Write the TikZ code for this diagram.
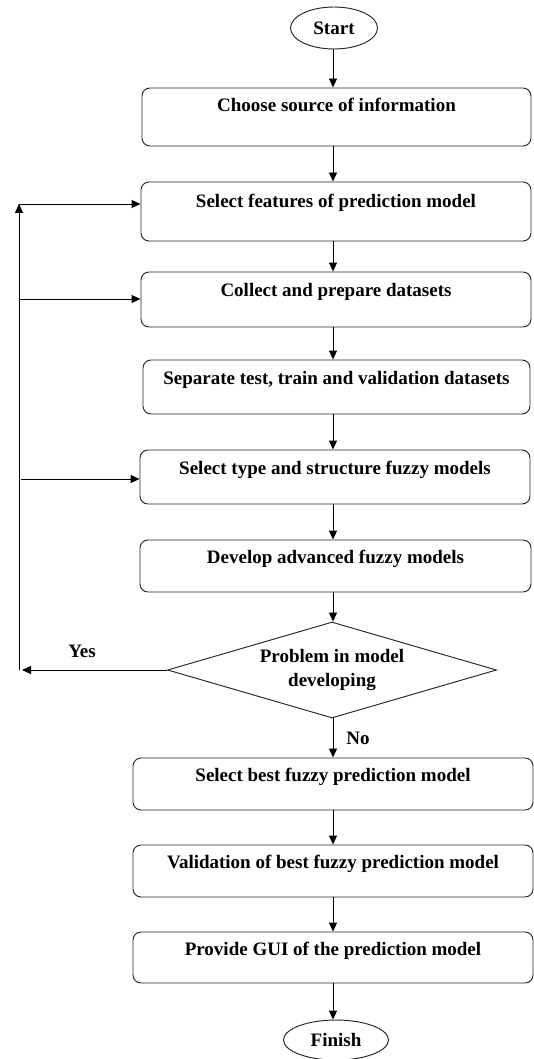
\documentclass[tikz,border=0pt]{standalone}
\usepackage{fontspec}
\setmainfont{Liberation Serif}
\usetikzlibrary{shapes.geometric,arrows.meta}
\begin{document}
\begin{tikzpicture}[x=1pt,y=-1pt,
  line width=0.95pt,
  every node/.style={font=\fontsize{19}{24}\selectfont\bfseries},
  stepbox/.style={draw=black!85,rounded corners=8pt,inner xsep=0pt,inner ysep=0pt,align=center},
  oval/.style={draw=black!85,ellipse,inner sep=0pt},
  decide/.style={draw=black!85,diamond,inner sep=0pt,aspect=3.43,align=center},
  arr/.style={draw=black,-{Triangle[length=9pt,width=8pt]}},
  lbl/.style={inner sep=0pt}
]
\useasboundingbox (0,0) rectangle (534,1059);
\coordinate (ax) at (333,0);
% start / finish
\node[oval,minimum width=87pt,minimum height=42pt] (start) at (334,28) {Start};
\node[oval,minimum width=105pt,minimum height=40pt] (finish) at (336,1040) {Finish};
% boxes
\node[stepbox,minimum width=389pt,text height=24pt,text depth=34pt] (b1) at (336.5,117) {Choose source of information};
\node[stepbox,minimum width=390pt,text height=26pt,text depth=33pt] (b2) at (336,211.5) {Select features of prediction model};
\node[stepbox,minimum width=390pt,text height=24pt,text depth=31pt] (b3) at (336,299.5) {Collect and prepare datasets};
\node[stepbox,minimum width=387pt,text height=24pt,text depth=30pt] (b4) at (336.5,387) {Separate test, train and validation datasets};
\node[stepbox,minimum width=390pt,text height=24pt,text depth=30pt] (b5) at (335,477) {Select type and structure fuzzy models};
\node[stepbox,minimum width=391pt,text height=23pt,text depth=29pt] (b6) at (335.5,566) {Develop advanced fuzzy models};
\node[decide,minimum width=329pt,minimum height=96pt] (d1) at (332,670) {Problem in model\\developing};
\node[stepbox,minimum width=400pt,text height=23pt,text depth=29pt] (b7) at (333,784) {Select best fuzzy prediction model};
\node[stepbox,minimum width=400pt,text height=23pt,text depth=29pt] (b8) at (333,871) {Validation of best fuzzy prediction model};
\node[stepbox,minimum width=400pt,text height=23pt,text depth=28pt] (b9) at (333,957.5) {Provide GUI of the prediction model};
% labels
\node[lbl] (yes) at (82,651) {Yes};
\node[lbl] (no) at (358,738) {No};
% main flow
\draw[arr] (start.south -| ax) -- (b1.north -| ax);
\draw[arr] (b1.south -| ax) -- (b2.north -| ax);
\draw[arr] (b2.south -| ax) -- (b3.north -| ax);
\draw[arr] (b3.south -| ax) -- (b4.north -| ax);
\draw[arr] (b4.south -| ax) -- (b5.north -| ax);
\draw[arr] (b5.south -| ax) -- (b6.north -| ax);
\draw[arr] (b6.south -| ax) -- (d1.north -| ax);
\draw[arr] (d1.south -| ax) -- (b7.north -| ax);
\draw[arr] (b7.south -| ax) -- (b8.north -| ax);
\draw[arr] (b8.south -| ax) -- (b9.north -| ax);
\draw[arr] (b9.south -| ax) -- (finish.north -| ax);
% feedback loop
\coordinate (lb) at (19,670);
\coordinate (lt) at (19,204);
\coordinate (l3) at (19,299);
\coordinate (l5) at (21,479);
\coordinate (ye) at (22,670);
\draw[arr] (d1.west) -- (ye);
\draw[arr] (lb) -- (lt);
\draw[arr] (lt) -- (lt -| b2.west);
\draw[arr] (l3) -- (l3 -| b3.west);
\draw[arr] (l5) -- (l5 -| b5.west);
\end{tikzpicture}
\end{document}
